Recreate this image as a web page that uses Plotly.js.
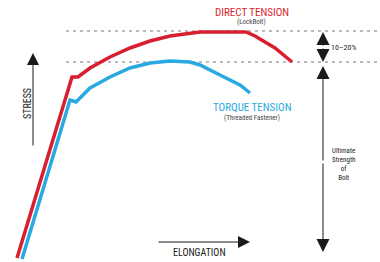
<!DOCTYPE html>
<html>
<head>
<meta charset="utf-8">
<script src="https://cdn.plot.ly/plotly-3.0.1.min.js"></script>
<style>html,body{margin:0;padding:0;background:#fff;}#chart{width:380px;height:262px;}</style>
</head>
<body>
<div id="chart"></div>
<script>
// Elongation (x) and stress (y), in picture units (stress up)
var directElong  = [17, 55, 72, 78, 90, 110, 130, 150, 170, 200, 220, 246, 255, 265, 275, 292];
var directStress = [4, 131, 185, 185, 194, 205, 214, 221, 226, 230, 230, 230, 226, 220, 214, 200];
var torqueElong  = [22, 50, 70, 76, 90, 110, 130, 150, 170, 190, 200, 220, 240, 250];
var torqueStress = [3, 96, 162, 160, 174, 185, 194, 199, 201, 200, 197, 187, 177, 169];
var ultimateLevel = 231;
var torqueLevel = 200;

var FONT = "'Liberation Sans Narrow', 'Roboto Condensed', 'Arial Narrow', 'Liberation Sans', sans-serif";
var RED = '#d71f30';
var BLUE = '#29a9e1';
var GRAY = '#444444';

var traces = [
  {x: directElong, y: directStress, mode: 'lines', line: {color: RED, width: 3.5}, hoverinfo: 'skip'},
  {x: torqueElong, y: torqueStress, mode: 'lines', line: {color: BLUE, width: 3.5}, hoverinfo: 'skip'}
];

function arrow(x0, y0, x1, y1, size) {
  return {x: x1, y: y1, ax: x0, ay: y0, xref: 'x', yref: 'y', axref: 'x', ayref: 'y',
    text: '', showarrow: true, arrowhead: 2, arrowsize: size || 2.4, arrowwidth: 1, arrowcolor: '#1a1a1a'};
}
function label(x, y, text, size, color, angle) {
  return {x: x, y: y, xref: 'x', yref: 'y', text: text, showarrow: false,
    font: {family: FONT, size: size, color: color}, textangle: angle || 0};
}

var annotations = [
  arrow(33, 115, 33, 209),
  arrow(157, 20, 250, 20),
  arrow(323, 215, 323, 230, 2.6),
  arrow(323, 215, 323, 200, 2.6),
  arrow(323, 100, 323, 196, 2.6),
  arrow(323, 100, 323, 10, 2.6),
  label(252, 262 - 12, 'DIRECT TENSION', 11, RED),
  label(251, 262 - 22, '(LockBolt)', 7, GRAY),
  label(252, 262 - 107, 'TORQUE TENSION', 11, BLUE),
  label(252, 262 - 118, '(Threaded Fastener)', 7, GRAY),
  label(27, 262 - 104, 'STRESS', 10, '#222', -90),
  label(199, 262 - 252, 'ELONGATION', 10, '#222'),
  label(343, 262 - 47, '10–20%', 8, '#222'),
  label(343, 262 - 164, 'Ultimate<br>Strength<br>of<br>Bolt', 7, '#222')
];

var layout = {
  width: 380, height: 262,
  margin: {l: 0, r: 0, t: 0, b: 0},
  paper_bgcolor: '#fff', plot_bgcolor: '#fff',
  showlegend: false,
  xaxis: {range: [0, 380], visible: false, fixedrange: true},
  yaxis: {range: [0, 262], visible: false, fixedrange: true},
  shapes: [
    {type: 'line', xref: 'x', yref: 'y', x0: 66, x1: 380, y0: ultimateLevel, y1: ultimateLevel,
     line: {color: '#777', width: 1, dash: '3px,4px'}, layer: 'below'},
    {type: 'line', xref: 'x', yref: 'y', x0: 66, x1: 380, y0: torqueLevel, y1: torqueLevel,
     line: {color: '#777', width: 1, dash: '3px,4px'}, layer: 'below'}
  ],
  annotations: annotations
};

Plotly.newPlot('chart', traces, layout, {staticPlot: true, displayModeBar: false});
</script>
</body>
</html>
